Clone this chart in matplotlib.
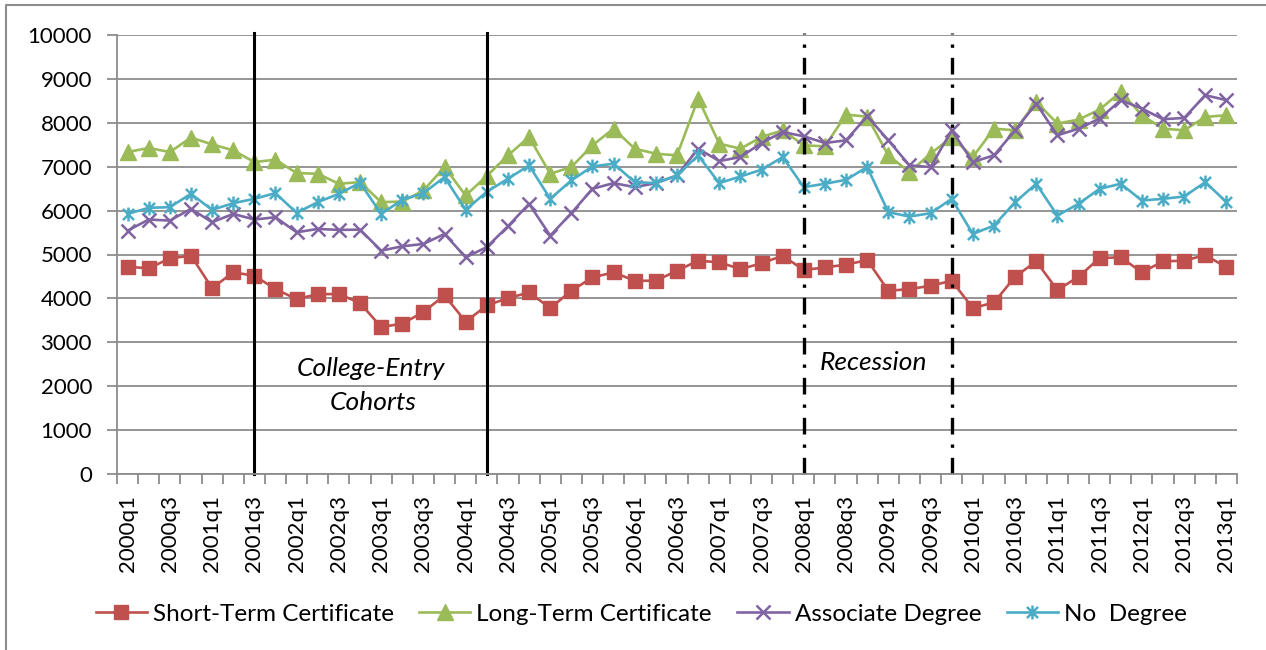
import numpy as np
import matplotlib
matplotlib.use('Agg')
import matplotlib.pyplot as plt
from matplotlib.path import Path
from matplotlib.lines import Line2D

plt.rcParams['font.family'] = ['Lato', 'DejaVu Sans']

quarters = [f'{y}q{q}' for y in range(2000, 2014) for q in range(1, 5)][:53]

short_term = [4722, 4684, 4912, 4973, 4235, 4593, 4516, 4212, 3983, 4098, 4098, 3895,
              3348, 3424, 3689, 4068, 3470, 3840, 4006, 4136, 3778, 4174, 4478, 4593,
              4402, 4402, 4631, 4859, 4821, 4669, 4798, 4973, 4646, 4707, 4768, 4874,
              4174, 4212, 4288, 4402, 3778, 3907, 4493, 4844, 4189, 4493, 4920, 4935,
              4593, 4844, 4859, 4988, 4707]
long_term = [7334, 7426, 7334, 7662, 7510, 7372, 7106, 7159, 6855, 6839, 6611, 6649,
             6192, 6207, 6458, 6992, 6344, 6790, 7258, 7677, 6839, 6992, 7487, 7867,
             7410, 7296, 7258, 8553, 7525, 7410, 7677, 7829, 7487, 7464, 8187, 8140,
             7258, 6877, 7296, 7677, 7220, 7867, 7829, 8477, 7982, 8073, 8302, 8705,
             8172, 7867, 7829, 8134, 8172]
associate = [5544, 5796, 5773, 6040, 5735, 5925, 5796, 5849, 5506, 5583, 5560, 5567,
             5088, 5187, 5240, 5468, 4935, 5170, 5644, 6154, 5430, 5941, 6497, 6626,
             6535, 6626, 6801, 7410, 7129, 7220, 7540, 7791, 7692, 7540, 7601, 8150,
             7601, 7030, 6992, 7829, 7106, 7258, 7829, 8439, 7715, 7867, 8096, 8515,
             8324, 8081, 8111, 8629, 8515]
no_degree = [5925, 6063, 6078, 6382, 6017, 6169, 6268, 6398, 5948, 6192, 6382, 6634,
             5925, 6245, 6398, 6763, 6017, 6430, 6725, 7030, 6268, 6687, 7007, 7068,
             6649, 6626, 6801, 7258, 6626, 6778, 6931, 7220, 6535, 6611, 6702, 6992,
             5964, 5864, 5941, 6268, 5468, 5659, 6192, 6611, 5887, 6154, 6497, 6611,
             6230, 6268, 6321, 6649, 6192]

cohort_lines = [6, 17]       # 2001q3, 2004q2
recession_lines = [32, 39]   # 2008q1, 2009q4

# excel style star marker: x with a vertical bar
star = Path([(-1, -1), (1, 1), (-1, 1), (1, -1), (0, -1.25), (0, 1.25)],
            [Path.MOVETO, Path.LINETO, Path.MOVETO, Path.LINETO, Path.MOVETO, Path.LINETO])

fig = plt.figure(figsize=(12.66, 6.5), dpi=100)
ax = fig.add_axes([117 / 1266, 176 / 650, 1120 / 1266, 439 / 650])

x = np.arange(len(quarters))
lw = 1.9
ax.plot(x, short_term, color='#C0504D', lw=lw, marker='s', ms=10.5, label='Short-Term Certificate')
ax.plot(x, long_term, color='#9BBB59', lw=lw, marker='^', ms=11.5, label='Long-Term Certificate')
ax.plot(x, associate, color='#8064A2', lw=lw, marker='x', ms=10, mew=1.8, label='Associate Degree')
ax.plot(x, no_degree, color='#4BACC6', lw=lw, marker=star, ms=10, mew=1.8, mfc='none',
        label='No  Degree')

for c in cohort_lines:
    ax.axvline(c, color='black', lw=2.2, ymax=1.005, clip_on=False)
for c in recession_lines:
    ax.axvline(c, color='black', lw=2.4, ls=(0, (5, 3, 1, 3)), ymax=1.005, clip_on=False)

ax.text(11.5, 2410, 'College-Entry', style='italic', fontsize=19, ha='center', va='center')
ax.text(11.6, 1640, 'Cohorts', style='italic', fontsize=19, ha='center', va='center')
ax.text(35.3, 2550, 'Recession', style='italic', fontsize=19, ha='center', va='center')

ax.set_xlim(-0.5, len(quarters) - 0.5)
ax.set_ylim(0, 10000)
ax.set_yticks(range(0, 10001, 1000))
ax.yaxis.grid(True, color='#8C8C8C', lw=1.3)
ax.set_axisbelow(True)

ax.set_xticks(x[::2])
ax.set_xticklabels(quarters[::2], rotation=90)
ax.set_xticks(np.arange(-0.5, len(quarters)), minor=True)
ax.tick_params(axis='x', which='major', length=0, pad=15, labelsize=16)
ax.tick_params(axis='x', which='minor', length=7, width=1.3, color='#8C8C8C', direction='out')
ax.tick_params(axis='y', length=7, width=1.3, color='#8C8C8C', labelsize=16, pad=11)

for s in ['top', 'right']:
    ax.spines[s].set_visible(False)
for s in ['left', 'bottom']:
    ax.spines[s].set_color('#8C8C8C')
    ax.spines[s].set_linewidth(1.3)

ax.legend(loc='center', bbox_to_anchor=(0.468, -0.32), ncol=4, frameon=False,
          fontsize=17.5, handlelength=2.1, handletextpad=0.25, columnspacing=1.05)

# chart area border (top and left visible)
fig.add_artist(Line2D([6 / 1266, 6 / 1266, 1], [0, 1 - 5 / 650, 1 - 5 / 650],
                      color='#8C8C8C', lw=1.5))

fig.savefig('out.png', dpi=100)
